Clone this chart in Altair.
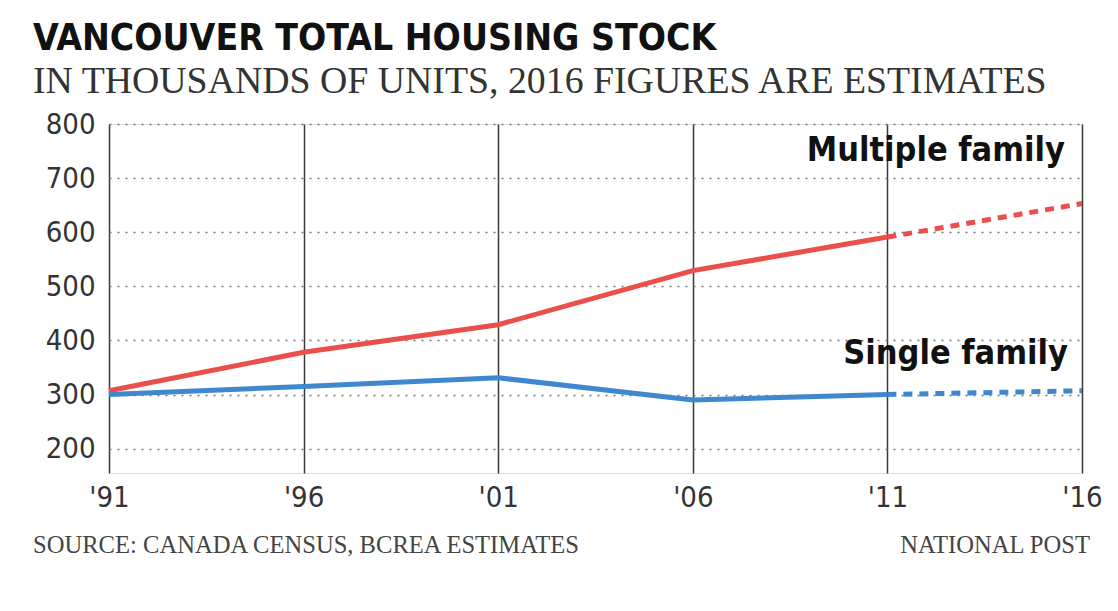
import altair as alt
import pandas as pd

years = [1991, 1996, 2001, 2006, 2011, 2016]
multiple_family = [307, 378, 429, 529, 591, 653]
single_family = [300, 315, 331, 290, 300, 307]
y_ticks = [200, 300, 400, 500, 600, 700, 800]
series_names = ["Multiple family", "Single family"]
series_colors = ["#ea4f4b", "#3f87cf"]
estimate_start = 2011

rows = []
for name, vals in zip(series_names, [multiple_family, single_family]):
    for yr, v in zip(years, vals):
        if yr <= estimate_start:
            rows.append({"year": yr, "value": v, "series": name, "seg": "actual"})
        if yr >= estimate_start:
            rows.append({"year": yr, "value": v, "series": name, "seg": "estimate"})
df = pd.DataFrame(rows)

COND = "DejaVu Sans Condensed, Liberation Sans Narrow, sans-serif"
SERIF = "Liberation Serif, DejaVu Serif, serif"

x_enc = alt.X(
    "year:Q",
    scale=alt.Scale(domain=[1991, 2016], nice=False, zero=False),
    axis=alt.Axis(
        values=years,
        labelExpr="\"'\" + slice(toString(datum.value), 2)",
        grid=True, gridColor="#3a3a3a", gridWidth=1.5,
        domain=False, ticks=False,
        labelFont=COND, labelFontSize=29, labelColor="#333",
        labelPadding=10, labelFlush=False, title=None,
    ),
)
y_enc = alt.Y(
    "value:Q",
    scale=alt.Scale(domain=[155, 800], nice=False, zero=False),
    axis=alt.Axis(
        values=y_ticks,
        grid=True, gridColor="#777", gridDash=[2, 6], gridWidth=1.5,
        domain=False, ticks=False,
        labelFont=COND, labelFontSize=29, labelColor="#333",
        labelPadding=14, title=None,
    ),
)
color_enc = alt.Color(
    "series:N",
    scale=alt.Scale(domain=series_names, range=series_colors),
    legend=None,
)

base = alt.Chart(df)
solid = base.transform_filter(alt.datum.seg == "actual").mark_line(
    strokeWidth=5, strokeCap="butt"
).encode(x=x_enc, y=y_enc, color=color_enc, detail="series:N")
dashed = base.transform_filter(alt.datum.seg == "estimate").mark_line(
    strokeWidth=5, strokeDash=[9, 7], strokeCap="butt"
).encode(x=x_enc, y=y_enc, color=color_enc, detail="series:N")

label_multi = alt.Chart(pd.DataFrame({"t": [series_names[0]]})).mark_text(
    font=COND, fontWeight="bold", fontSize=34, align="right",
    baseline="alphabetic", color="#111"
).encode(x=alt.value(956), y=alt.value(37), text="t:N")
label_single = alt.Chart(pd.DataFrame({"t": [series_names[1]]})).mark_text(
    font=COND, fontWeight="bold", fontSize=34, align="right",
    baseline="alphabetic", color="#111"
).encode(x=alt.value(959), y=alt.value(240), text="t:N")

src = alt.Chart(pd.DataFrame({"t": ["SOURCE: CANADA CENSUS, BCREA ESTIMATES"]})).mark_text(
    font=SERIF, fontSize=24.6, align="left", baseline="alphabetic", color="#444"
).encode(x=alt.value(-76), y=alt.value(429), text="t:N")
post = alt.Chart(pd.DataFrame({"t": ["NATIONAL POST"]})).mark_text(
    font=SERIF, fontSize=24.6, align="right", baseline="alphabetic", color="#444"
).encode(x=alt.value(981), y=alt.value(429), text="t:N")

chart = alt.layer(solid, dashed, label_multi, label_single, src, post).properties(
    width=973,
    height=349,
    autosize=alt.AutoSizeParams(type="none"),
    padding={"left": 101, "top": 116, "right": 20, "bottom": 110},
    title=alt.TitleParams(
        text="VANCOUVER TOTAL HOUSING STOCK",
        subtitle="IN THOUSANDS OF UNITS, 2016 FIGURES ARE ESTIMATES",
        anchor="start", frame="group", dx=-76, offset=8,
        font=COND, fontSize=37, fontWeight="bold", color="#111",
        subtitleFont=SERIF, subtitleFontSize=37.8, subtitleColor="#333",
        subtitlePadding=5,
    ),
).configure_view(stroke=None).configure(background="white")

chart.save("out.html", embed_options={"renderer": "svg", "actions": False})
